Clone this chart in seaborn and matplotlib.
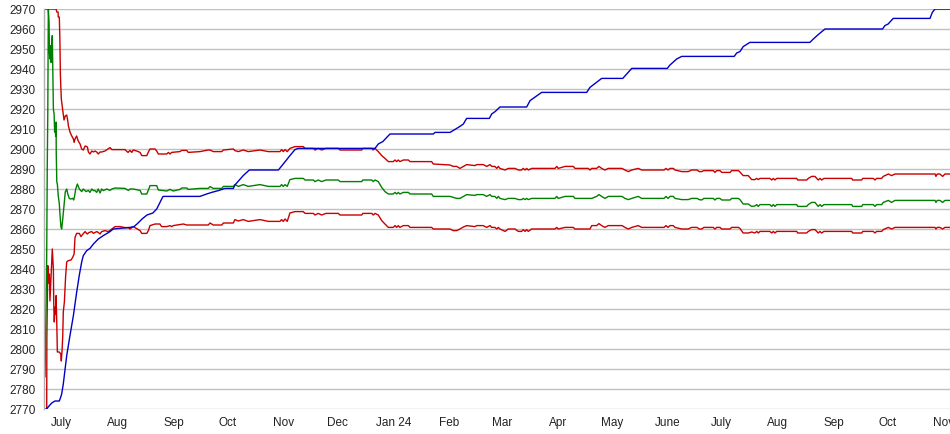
import pandas as pd
import matplotlib
matplotlib.use("Agg")
import matplotlib.pyplot as plt
import seaborn as sns

sns.set_style("white")
plt.rcParams['font.family'] = ['Liberation Sans', 'DejaVu Sans']
plt.rcParams['font.size'] = 8.5

# x values are days after 2023-06-22
START = pd.Timestamp("2023-06-22")

# blue rising line
blue_day = [0, 0.8, 2.1, 3.4, 5.2, 7.6, 8.4, 8.9, 9.8, 10.8, 11.7, 13.5, 15.4, 17.2, 18.7,
            20.0, 20.9, 22.8, 24.6, 26.5, 29.2, 32.0, 35.7, 37.5, 46.8, 49.0, 50.7, 53.5,
            56.2, 59.5, 61.6, 65.1, 85.6, 89.3, 92.1, 95.8, 99.5, 104.1, 105.0, 109.6,
            113.0, 129.1, 131.8, 135.5, 138.3, 140.1, 182.7, 184.5, 187.0, 191.0, 215.0,
            216.0, 224.3, 228.0, 229.8, 231.7, 233.5, 246.1, 247.4, 249.3, 252.0, 266.8,
            268.7, 275.1, 300.1, 301.9, 308.4, 320.1, 322.3, 325.1, 344.8, 346.3, 350.0,
            352.8, 381.9, 383.3, 385.1, 386.9, 390.6, 423.9, 425.8, 428.5, 432.3, 464.2,
            465.5, 467.3, 470.1, 490.5, 491.8, 493.3, 501.6]
blue_val = [2770, 2770.3, 2771.7, 2773, 2774, 2774, 2776, 2777.5, 2782.5, 2790, 2796.7,
            2806.7, 2816.7, 2828.3, 2837, 2843.5, 2846.7, 2849.2, 2850.3, 2852.5, 2855,
            2856.7, 2858.7, 2860, 2860.8, 2861.2, 2862.5, 2865, 2867, 2868, 2870, 2876.3,
            2876.3, 2877.5, 2878.3, 2879.2, 2880.3, 2880.3, 2882, 2886.7, 2889.5, 2889.5,
            2892.5, 2896.7, 2899.7, 2900.3, 2900.3, 2902.5, 2903.7, 2907.5, 2907.5, 2908.3,
            2908.3, 2910.3, 2911.3, 2912.5, 2915.3, 2915.3, 2917.5, 2918.7, 2921, 2921,
            2924.2, 2928.3, 2928.3, 2930.8, 2935.3, 2935.3, 2937.5, 2940.3, 2940.3, 2942,
            2945, 2946.3, 2946.3, 2948, 2948.7, 2951.2, 2953.3, 2953.3, 2955, 2957.2, 2960,
            2960, 2961.7, 2962.5, 2965.3, 2965.3, 2968.3, 2970, 2970]

# first weeks, each band line on its own
upper_day_early = [-0.2, 5.8, 6.2, 6.9, 7.0, 7.6, 7.9, 8.2, 8.7, 9.4, 9.8, 10.2, 10.9, 11.7,
                   12.3, 12.6, 13.5, 14.5, 15.4, 15.8, 16.3, 17.2, 18.1, 19.1, 20.0, 20.9,
                   21.9, 23.2, 23.7, 24.6, 25.6, 26.5, 27.4, 28.3, 29.2, 30.2, 31.1, 32.9,
                   34.6, 35.7, 36.7, 44.0, 45.7, 46.8, 47.8, 48.6, 50.5, 52.4, 53.3, 56.1,
                   57.0, 57.9, 60.7, 61.6, 62.5, 67.2, 68.1, 69.0, 69.9, 74.5, 75.5, 78.3, 79.1]
upper_val_early = [2970, 2970, 2968.5, 2968.5, 2966, 2966, 2955, 2936.7, 2925, 2920, 2917,
                   2914.5, 2916.5, 2917, 2914, 2911.7, 2908.5, 2906.5, 2905, 2903.3, 2905,
                   2906.5, 2904, 2902.5, 2900, 2899.5, 2901.5, 2901, 2898.5, 2897.5, 2899,
                   2898.5, 2899, 2898.5, 2897.5, 2898.5, 2898.5, 2899, 2900, 2900.7, 2899.7,
                   2899.7, 2898.3, 2899.3, 2898.3, 2899.5, 2899, 2898.3, 2896.7, 2896.7,
                   2898.5, 2900, 2900, 2899, 2897.5, 2897.5, 2898.3, 2897.5, 2898.3, 2898.7,
                   2899.3, 2899.3, 2898.3]

green_day_early = [-0.3, 0, 0.6, 0.9, 1.2, 1.5, 1.9, 2.1, 2.4, 2.8, 3.0, 3.4, 3.7, 3.9, 4.3,
                   4.7, 5.0, 5.2, 5.6, 5.8, 5.9, 6.2, 6.5, 7.0, 7.6, 8.0, 8.5, 8.9, 9.5,
                   10.2, 10.9, 11.7, 12.3, 13.1, 13.9, 15.0, 15.6, 16.1, 16.7, 17.6, 18.7,
                   20.0, 20.9, 22.4, 23.7, 24.6, 25.6, 26.5, 27.4, 28.3, 29.2, 30.2, 31.1,
                   32.0, 33.9, 35.7, 36.7, 38.5, 44.0, 45.9, 46.8, 48.6, 52.4, 53.3, 56.1,
                   57.0, 57.9, 61.6, 62.5, 67.2, 69.0, 70.8, 74.5, 75.5, 78.3, 79.1]
green_val_early = [2786, 2806, 2847, 2890, 2918, 2970, 2963.5, 2948.5, 2945, 2951.7, 2943.3,
                   2952.5, 2956.7, 2944, 2920, 2917.5, 2908.5, 2911, 2906.5, 2913.5, 2897.5,
                   2883.5, 2882.5, 2876.7, 2872.5, 2866.7, 2861, 2860, 2865, 2871.7, 2878.5,
                   2880, 2877.5, 2875.3, 2875, 2875.3, 2874.5, 2876.7, 2880, 2882.5, 2880,
                   2878.7, 2880, 2878.7, 2879.3, 2878.3, 2880, 2879.2, 2879.2, 2878.3, 2880,
                   2878, 2880, 2879.2, 2880, 2879.3, 2880, 2880.5, 2880.3, 2879.3, 2880,
                   2880, 2879.3, 2877.5, 2877.5, 2879.5, 2881.7, 2881.7, 2879.5, 2879,
                   2879.8, 2879, 2879.8, 2880.5, 2880.5, 2879.8]

lower_day_early = [0.6, 0.7, 1.2, 1.6, 2.1, 2.4, 2.8, 3.4, 3.7, 4.3, 4.5, 4.8, 5.2, 5.6, 5.8,
                   6.2, 6.5, 7.6, 8.4, 8.7, 9.1, 9.5, 9.8, 10.4, 11.1, 11.7, 12.6, 14.1,
                   15.0, 15.8, 16.3, 17.2, 18.7, 19.6, 20.7, 21.9, 23.1, 24.1, 25.6, 26.5,
                   28.3, 29.2, 30.2, 31.1, 32.9, 34.8, 36.7, 38.5, 41.3, 44.0, 45.9, 46.8,
                   48.6, 52.4, 53.3, 56.1, 57.0, 57.9, 60.7, 63.4, 64.3, 67.2, 69.0, 69.9,
                   70.8, 76.4, 78.3]
lower_val_early = [2770, 2806, 2841.7, 2833, 2837.5, 2824, 2831.7, 2843.5, 2850, 2840,
                   2822.5, 2813.5, 2821, 2817.5, 2826.7, 2812.5, 2798.5, 2798.5, 2797.5,
                   2794, 2799, 2806.7, 2818.5, 2823.5, 2836.5, 2843.5, 2844.2, 2844.5,
                   2845.8, 2847.5, 2855.8, 2857.8, 2857.8, 2856.2, 2857.5, 2858.7, 2857.5,
                   2858.3, 2858.7, 2857.8, 2858.7, 2858.3, 2857.5, 2858.7, 2859.2, 2858.7,
                   2860, 2861.2, 2861.2, 2860.7, 2860.7, 2860, 2861.2, 2859.2, 2857.8,
                   2857.8, 2859.2, 2861.7, 2862.5, 2862.5, 2861.2, 2861.2, 2861.7, 2861.2,
                   2861.7, 2862.5, 2862]

# from mid September on the three band lines move together
band_day = [85.6, 90.2, 91.2, 93.0, 97.7, 98.6, 104.1, 105.0, 106.9, 109.6, 112.4, 118.9,
            123.5, 130.0, 130.9, 131.8, 132.8, 134.0, 135.5, 138.3, 142.9, 143.9, 148.5,
            149.4, 151.2, 153.1, 155.5, 162.3, 163.3, 175.3, 175.9, 180.9, 181.7, 182.7,
            184.5, 186.4, 188.2, 190.1, 192.8, 193.8, 194.7, 195.6, 196.5, 198.4, 201.2,
            202.1, 214.1, 215.0,
            224.3, 226.1, 228.0, 229.8, 231.7, 233.5, 238.1, 239.1, 242.7, 244.6, 246.5,
            247.4, 249.2, 250.2, 251.1, 252.0, 254.8, 256.6, 260.3, 262.2, 264.0, 264.9,
            265.9, 266.8, 267.7, 269.6, 282.5, 283.5, 284.3, 288.1, 292.7, 293.6, 301.0,
            301.9, 302.9, 305.6, 306.9, 308.4, 310.2, 312.1, 319.7, 321.3, 323.2, 325.1,
            328.7, 330.6, 343.0, 344.1, 345.2, 346.3, 348.1, 349.1, 352.8, 356.4, 358.3,
            361.3, 362.5,
            363.9, 365.1, 370.3, 371.2, 372.2, 374.0, 375.0, 379.6, 380.5, 384.2, 385.1,
            386.9, 389.7, 391.6, 393.4, 394.4, 395.3, 396.2, 401.7, 402.7, 403.6, 404.5,
            405.5, 416.6, 417.1, 422.1, 423.0, 424.9, 426.7, 427.7, 428.5, 429.5, 430.4,
            431.7, 447.1, 447.6, 452.6, 453.2, 459.0, 460.0, 460.9, 463.7, 464.6, 467.4,
            469.2, 471.1, 493.3, 493.8, 494.5, 496.0, 497.5, 498.8, 501.6]
upper_val = [2898.7, 2899.5, 2899.5, 2898.7, 2898.7, 2899.5, 2900.0, 2899.2, 2898.7, 2899.5,
             2898.7, 2899.5, 2898.7, 2898.7, 2899.7, 2898.7, 2899.7, 2898.7, 2900.3, 2901.2,
             2901.2, 2900.3, 2900.3, 2899.5, 2900.3, 2899.5, 2900.3, 2900.3, 2899.5, 2899.5,
             2900.3, 2900.3, 2899.5, 2900.3, 2898.7, 2896.7, 2895.3, 2893.7, 2893.7, 2894.5,
             2893.7, 2894.5, 2893.7, 2894.5, 2894.5, 2893.7, 2893.7, 2892.5,
             2892, 2891.3, 2891.3, 2890.3, 2891.3, 2892.2, 2891.7, 2892.2, 2892.2, 2891.3,
             2892.2, 2891.3, 2891.3, 2890.3, 2891.3, 2890.3, 2889.5, 2890.3, 2890.3, 2889.5,
             2889.5, 2890.3, 2889.5, 2890.3, 2889.5, 2890.3, 2890.3, 2891.3, 2890.3, 2891.3,
             2891.3, 2890.3, 2890.3, 2889.5, 2890.3, 2890.3, 2891.3, 2890.3, 2889.5, 2890.3,
             2890.3, 2889.5, 2888.7, 2889.5, 2890.3, 2889.5, 2889.5, 2890.3, 2889.5, 2890.3,
             2890.3, 2889.5, 2888.7, 2888.7, 2889.5, 2889.5, 2888.7,
             2888.7, 2889.2, 2889.2, 2888.3, 2889.2, 2889.2, 2888.3, 2888.3, 2889.2, 2889.2,
             2888.5, 2886.7, 2886.7, 2884.7, 2884.7, 2885.3, 2884.7, 2885.3, 2885.3, 2884.5,
             2885.3, 2884.5, 2885.3, 2885.3, 2884.5, 2884.5, 2885.3, 2886.3, 2886.3, 2885.3,
             2884.5, 2885.3, 2884.5, 2885.3, 2885.3, 2884.5, 2884.5, 2885.3, 2885.3, 2884.5,
             2885.3, 2885.3, 2886.3, 2887.5, 2886.7, 2887.5, 2887.5, 2886.3, 2887.5, 2887.5,
             2886.3, 2887.5, 2887.5]
green_val = [2880.3, 2880.3, 2881.2, 2880.3, 2880.3, 2881.3, 2881.3, 2882.2, 2881.3, 2882.2,
             2881.3, 2882.2, 2881.3, 2881.3, 2882.2, 2881.3, 2882.2, 2881.3, 2884.7, 2885.3,
             2885.3, 2884.5, 2884.5, 2883.7, 2884.5, 2883.7, 2884.5, 2884.5, 2883.7, 2883.7,
             2884.5, 2884.5, 2883.7, 2884.5, 2883.7, 2880.8, 2878.7, 2877.5, 2877.5, 2878.3,
             2877.5, 2878.3, 2877.5, 2878.3, 2878.3, 2877.5, 2877.5, 2876.3,
             2876.3, 2875.8, 2875.3, 2875.3, 2876.3, 2877.2, 2876.8, 2877.2, 2877.2, 2876.3,
             2877.2, 2876.3, 2876.3, 2875.3, 2876.3, 2875.3, 2874.7, 2875.3, 2875.3, 2874.7,
             2874.7, 2875.3, 2874.7, 2875.3, 2874.7, 2875.3, 2875.3, 2876.3, 2875.3, 2876.3,
             2876.3, 2875.3, 2875.3, 2875.3, 2875.3, 2876.3, 2877.2, 2876.3, 2875.3, 2876.3,
             2876.3, 2875.3, 2874.7, 2875.3, 2876.3, 2875.3, 2875.3, 2876.3, 2875.3, 2876.3,
             2876.3, 2875.3, 2874.7, 2874.7, 2875.3, 2875.3, 2874.7,
             2874.5, 2875.3, 2875.3, 2874.5, 2875.3, 2875.3, 2874.5, 2874.5, 2875.3, 2875.3,
             2874.7, 2872.5, 2872.5, 2871.3, 2871.5, 2872.2, 2871.3, 2872.2, 2872.2, 2871.3,
             2872.2, 2871.3, 2872.2, 2872.2, 2871.3, 2871.3, 2872.2, 2873.3, 2873.3, 2872.2,
             2871.3, 2872.2, 2871.3, 2872.2, 2872.2, 2871.3, 2871.3, 2872.2, 2872.2, 2871.3,
             2872.2, 2872.2, 2873.3, 2874.3, 2873.3, 2874.3, 2874.3, 2873.3, 2874.3, 2874.3,
             2873.3, 2874.3, 2874.3]
lower_val = [2862, 2862, 2863, 2862, 2862, 2863, 2863, 2864.7, 2864, 2864.7,
             2863.8, 2864.7, 2863.8, 2863.8, 2864.7, 2863.8, 2865, 2863.8, 2868, 2868.7,
             2868.7, 2867.8, 2867.8, 2867, 2867.8, 2867, 2867.8, 2867.8, 2867, 2867,
             2867.8, 2867.8, 2867, 2867.8, 2867, 2864.2, 2862.5, 2860.8, 2860.8, 2861.7,
             2860.8, 2861.7, 2860.8, 2861.7, 2861.7, 2860.8, 2860.8, 2860,
             2860, 2859.2, 2859.2, 2860, 2861, 2861.7, 2861.2, 2861.7, 2861.7, 2860.8,
             2861.7, 2860.8, 2860.8, 2860, 2860.8, 2860, 2858.8, 2860, 2860, 2858.8,
             2858.8, 2859.7, 2858.8, 2859.7, 2858.8, 2860, 2860, 2860.8, 2860, 2860.8,
             2860.8, 2860, 2860, 2860, 2861.7, 2861.7, 2862.7, 2861.7, 2860.8, 2861.7,
             2861.7, 2860.8, 2860, 2860.8, 2861.7, 2860.8, 2860.8, 2861.7, 2860.8, 2861.7,
             2861.7, 2860.8, 2860, 2860, 2860.8, 2860.8, 2860,
             2860, 2860.8, 2860.8, 2860, 2860.8, 2860.8, 2860, 2860, 2860.8, 2860.8,
             2860.3, 2858, 2858, 2858.5, 2858, 2858.8, 2858, 2858.8, 2858.8, 2858,
             2858.8, 2858, 2858.8, 2858.8, 2858, 2858, 2858.8, 2859.7, 2859.7, 2858.8,
             2858, 2858.8, 2858, 2858.8, 2858.8, 2858, 2858, 2858.8, 2858.8, 2858,
             2858.8, 2858.8, 2859.7, 2860.8, 2860, 2860.8, 2860.8, 2860, 2860.8, 2860.8,
             2860, 2860.8, 2860.8]

month_labels = ["July", "Aug", "Sep", "Oct", "Nov", "Dec", "Jan 24", "Feb", "Mar", "Apr",
                "May", "June", "July", "Aug", "Sep", "Oct", "Nov"]
y_ticks = list(range(2770, 2971, 10))

BLUE = "#0000c8"
RED = "#c80000"
GREEN = "#008000"


def to_frame(days, values):
    return pd.DataFrame({"date": START + pd.to_timedelta(days, unit="D"), "value": values})


def main():
    fig = plt.figure(figsize=(9.5, 4.35), dpi=100)
    ax = fig.add_axes([44 / 950, 25 / 435, 906 / 950, 400 / 435])

    series = [
        (lower_day_early + band_day, lower_val_early + lower_val, RED),
        (green_day_early + band_day, green_val_early + green_val, GREEN),
        (upper_day_early + band_day, upper_val_early + upper_val, RED),
        (blue_day, blue_val, BLUE),
    ]
    for days, vals, col in series:
        sns.lineplot(data=to_frame(days, vals), x="date", y="value", color=col,
                     linewidth=1.0, sort=False, estimator=None, legend=False, ax=ax)

    ax.set_ylim(2770, 2970)
    ax.set_xlim(START - pd.Timedelta(days=0.9), START + pd.Timedelta(days=501.6))
    ax.set_yticks(y_ticks)
    months = pd.date_range("2023-07-01", periods=len(month_labels), freq="MS")
    ax.set_xticks(months, month_labels)

    ax.grid(axis="y", color="#c0c0c0", linewidth=1.0)
    ax.grid(axis="x", visible=False)
    ax.set_axisbelow(True)
    for side in ["top", "right", "bottom"]:
        ax.spines[side].set_visible(False)
    ax.spines["left"].set_color("#b0b0b0")
    ax.spines["left"].set_linewidth(1.0)
    ax.tick_params(axis="both", length=0, labelsize=8.5, colors="#222222")
    ax.tick_params(axis="y", pad=6)
    ax.tick_params(axis="x", pad=5)
    ax.set_xlabel("")
    ax.set_ylabel("")

    fig.savefig("out.png", dpi=100)
    plt.close(fig)


if __name__ == "__main__":
    main()
